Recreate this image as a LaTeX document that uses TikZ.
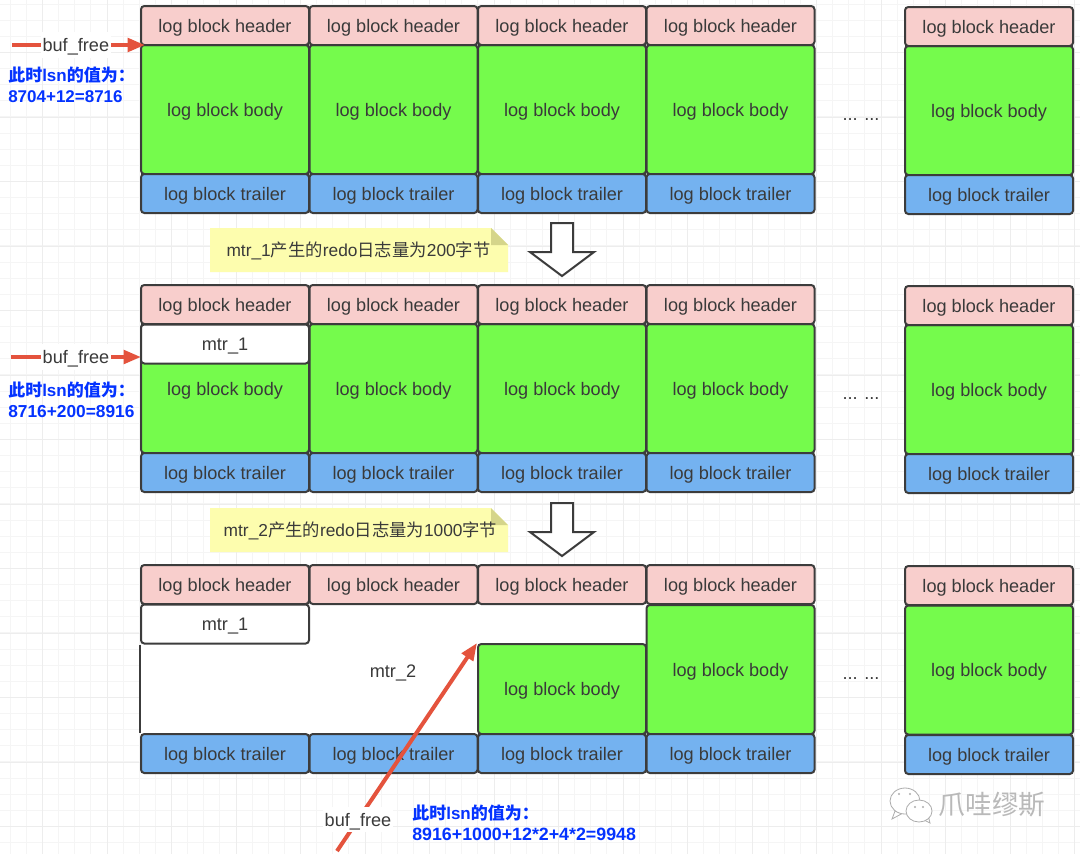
\documentclass[tikz,border=0pt]{standalone}
\usepackage{fontspec}
\setmainfont{Liberation Sans}
\newfontfamily\cjk{Noto Sans CJK SC}
\usetikzlibrary{arrows.meta}
\definecolor{hdrpink}{HTML}{F8CECC}
\definecolor{bodygreen}{HTML}{75FB4C}
\definecolor{tailblue}{HTML}{74B2F0}
\definecolor{edgegrey}{HTML}{3C3C3C}
\definecolor{textgrey}{HTML}{3A3A3A}
\definecolor{arrowred}{HTML}{E4533D}
\definecolor{notefill}{HTML}{FDFDAE}
\definecolor{foldfill}{HTML}{D5D58A}
\definecolor{lsnblue}{HTML}{0433FF}
\tikzset{
  logpart/.style={draw=edgegrey,line width=1.5pt,rounded corners=2.5pt,inner sep=0pt,
    minimum width=126pt,text=textgrey,text height=13pt,text depth=3pt,
    font=\fontsize{13.6}{16}\selectfont},
  hdrbox/.style={logpart,fill=hdrpink,minimum height=29.25pt},
  bodybox/.style={logpart,fill=bodygreen,minimum height=96.75pt},
  tailbox/.style={logpart,fill=tailblue,minimum height=29.25pt},
  mtrbox/.style={logpart,fill=white,minimum height=29.25pt},
  plaintext/.style={text=textgrey,inner sep=0pt,text height=13pt,text depth=3pt,
    font=\fontsize{13.6}{16}\selectfont},
  buflabel/.style={plaintext,fill=white,inner sep=1.5pt},
  lsntext/.style={anchor=west,align=left,inner sep=0pt,text=lsnblue,
    font=\fontsize{12.75}{16}\selectfont\bfseries},
  notetext/.style={text=textgrey,inner sep=0pt,font=\fontsize{13}{16}\selectfont},
  bufline/.style={draw=arrowred,line width=3pt,-{Triangle[length=13pt,width=10pt,fill=arrowred]}},
  bigarrow/.style={draw=edgegrey,line width=1.5pt,fill=white,line join=miter},
  chatbubble/.style={draw=gray!65,line width=0.6pt,fill=white}
}
\begin{document}
\begin{tikzpicture}
    [x=0.75pt,y=-0.75pt]
    \useasboundingbox (0,0) rectangle (1080,854);
    \fill[white] (0,0) rectangle (1080,854);
    %background grid
    \foreach \k in {0,...,66} \draw[black!4,line width=0.75pt] ({10.25+16.125*\k},0)--({10.25+16.125*\k},854);
    \foreach \k in {0,...,52} \draw[black!4,line width=0.75pt] (0,{4.1+16.125*\k})--(1080,{4.1+16.125*\k});
    \foreach \k in {0,...,16} \draw[black!7,line width=0.75pt] ({42.5+64.5*\k},0)--({42.5+64.5*\k},854);
    \foreach \k in {0,...,12} \draw[black!7,line width=0.75pt] (0,{52.5+64.5*\k})--(1080,{52.5+64.5*\k});
    %first row
    \node[bodybox] (body11) at (225,109.5) {log block body};
    \node[bodybox] (body12) at (393.5,109.5) {log block body};
    \node[bodybox] (body13) at (562,109.5) {log block body};
    \node[bodybox] (body14) at (730.5,109.5) {log block body};
    \node[bodybox] (body15) at (989,110.5) {log block body};
    \node[hdrbox] (hdr11) at (225,25.5) {log block header};
    \node[hdrbox] (hdr12) at (393.5,25.5) {log block header};
    \node[hdrbox] (hdr13) at (562,25.5) {log block header};
    \node[hdrbox] (hdr14) at (730.5,25.5) {log block header};
    \node[hdrbox] (hdr15) at (989,26.5) {log block header};
    \node[tailbox] (tail11) at (225,193.5) {log block trailer};
    \node[tailbox] (tail12) at (393.5,193.5) {log block trailer};
    \node[tailbox] (tail13) at (562,193.5) {log block trailer};
    \node[tailbox] (tail14) at (730.5,193.5) {log block trailer};
    \node[tailbox] (tail15) at (989,194.5) {log block trailer};
    \node[plaintext] (dots1) at (861,114) {... ...};
    %second row
    \node[bodybox] (body21) at (225,388.5) {log block body};
    \node[bodybox] (body22) at (393.5,388.5) {log block body};
    \node[bodybox] (body23) at (562,388.5) {log block body};
    \node[bodybox] (body24) at (730.5,388.5) {log block body};
    \node[bodybox] (body25) at (989,389.5) {log block body};
    \node[hdrbox] (hdr21) at (225,304.5) {log block header};
    \node[hdrbox] (hdr22) at (393.5,304.5) {log block header};
    \node[hdrbox] (hdr23) at (562,304.5) {log block header};
    \node[hdrbox] (hdr24) at (730.5,304.5) {log block header};
    \node[hdrbox] (hdr25) at (989,305.5) {log block header};
    \node[tailbox] (tail21) at (225,472.5) {log block trailer};
    \node[tailbox] (tail22) at (393.5,472.5) {log block trailer};
    \node[tailbox] (tail23) at (562,472.5) {log block trailer};
    \node[tailbox] (tail24) at (730.5,472.5) {log block trailer};
    \node[tailbox] (tail25) at (989,473.5) {log block trailer};
    \node[mtrbox] (mtr21) at (225,344) {mtr\_1};
    \node[plaintext] (dots2) at (861,393) {... ...};
    %third row
    \fill[white] (141,604)--(646,604)--(646,644)--(478,644)--(478,734)--(141,734)--cycle;
    \node[plaintext] (mtr32) at (393,671) {mtr\_2};
    \node[bodybox,minimum height=67.5pt] (body33) at (562,689) {log block body};
    \node[bodybox] (body34) at (730.5,669.5) {log block body};
    \node[bodybox] (body35) at (989,670) {log block body};
    \node[hdrbox] (hdr31) at (225,584.5) {log block header};
    \node[hdrbox] (hdr32) at (393.5,584.5) {log block header};
    \node[hdrbox] (hdr33) at (562,584.5) {log block header};
    \node[hdrbox] (hdr34) at (730.5,584.5) {log block header};
    \node[hdrbox] (hdr35) at (989,585.5) {log block header};
    \node[tailbox] (tail31) at (225,753.5) {log block trailer};
    \node[tailbox] (tail32) at (393.5,753.5) {log block trailer};
    \node[tailbox] (tail33) at (562,753.5) {log block trailer};
    \node[tailbox] (tail34) at (730.5,753.5) {log block trailer};
    \node[tailbox] (tail35) at (989,754.5) {log block trailer};
    \node[mtrbox] (mtr31) at (225,624) {mtr\_1};
    \draw[draw=edgegrey,line width=1.5pt] (mtr31.south west)--(tail31.north west);
    \node[plaintext] (dots3) at (861,673) {... ...};
    %notes
    \fill[notefill] (210,228)--(491,228)--(508,245)--(508,272)--(210,272)--cycle;
    \fill[foldfill] (491,228)--(491,245)--(508,245)--cycle;
    \node[notetext] (note1) at (358.5,251) {mtr\_1{\cjk 产生的}redo{\cjk 日志量为}200{\cjk 字节}};
    \fill[notefill] (210,508)--(491,508)--(508,525)--(508,552)--(210,552)--cycle;
    \fill[foldfill] (491,508)--(491,525)--(508,525)--cycle;
    \node[notetext] (note2) at (360.5,531) {mtr\_2{\cjk 产生的}redo{\cjk 日志量为}1000{\cjk 字节}};
    %hollow arrows
    \draw[bigarrow] (551,223)--(573,223)--(573,252)--(594,252)--(562,276)--(530,252)--(551,252)--cycle;
    \draw[bigarrow] (551,503)--(573,503)--(573,532)--(594,532)--(562,556)--(530,532)--(551,532)--cycle;
    %buf_free pointers
    \coordinate (start1) at (12,45);
    \coordinate (end1) at (145,45);
    \coordinate (start2) at (11,357);
    \coordinate (end2) at (141,357);
    \coordinate (start3) at (337,851);
    \draw[bufline] (start1)-- node[buflabel,pos=0.48] (buf1) {buf\_free} (end1);
    \draw[bufline] (start2)-- node[buflabel,pos=0.5] (buf2) {buf\_free} (end2);
    \draw[bufline] (start3)-- node[buflabel,pos=0.15] (buf3) {buf\_free} (body33.north west);
    %lsn values
    \node[lsntext] (lsn1) at (8,84.5) {{\cjk 此时}lsn{\cjk 的值为：}\\8704+12=8716};
    \node[lsntext] (lsn2) at (8,400) {{\cjk 此时}lsn{\cjk 的值为：}\\\fontsize{13}{16}\selectfont 8716+200=8916};
    \node[lsntext] (lsn3) at (412,822.5) {{\cjk 此时}lsn{\cjk 的值为：}\\\fontsize{13.35}{16}\selectfont 8916+1000+12*2+4*2=9948};
    %watermark
    \draw[chatbubble] (895,811)--(892,819)--(903,813)--cycle;
    \draw[chatbubble] (905,801) ellipse (15 and 13);
    \draw[chatbubble] (924,820)--(930,823)--(928,815)--cycle;
    \draw[chatbubble] (919,811) ellipse (13 and 11);
    \fill[gray!65] (899,794) circle (1.2) (910,794) circle (1.2) (915,807) circle (1.2) (923,807) circle (1.2);
    \node[inner sep=0pt,text=gray!55,font=\fontsize{20}{24}\selectfont\cjk] (mark) at (992,805) {爪哇缪斯};
\end{tikzpicture}
\end{document}
